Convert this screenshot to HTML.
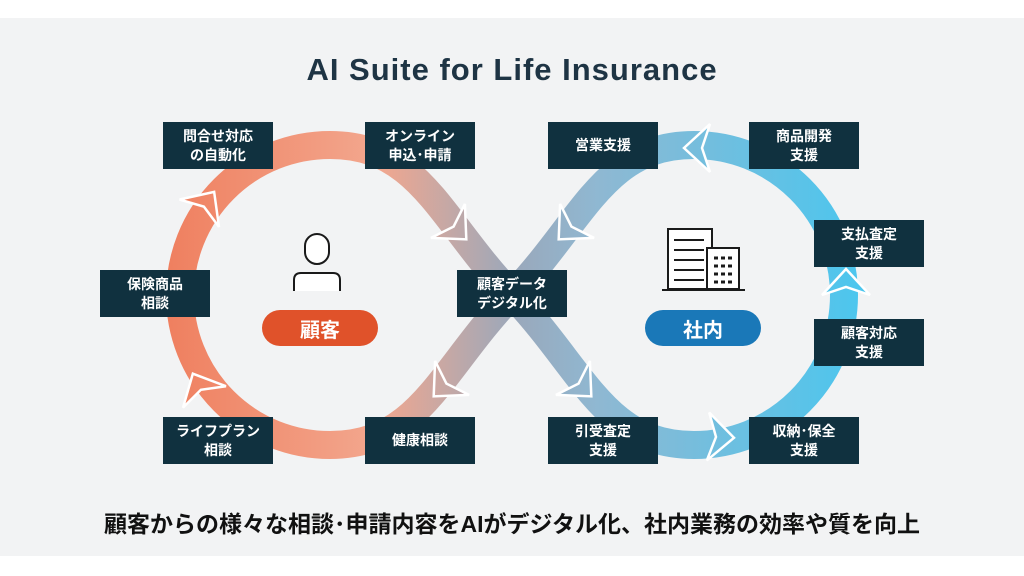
<!DOCTYPE html>
<html><head><meta charset="utf-8"><style>
html,body{margin:0;padding:0;}
body{width:1024px;height:576px;background:#fff;position:relative;overflow:hidden;font-family:"Liberation Sans","Noto Sans CJK JP",sans-serif;}
.panel{position:absolute;left:0;top:18px;width:1024px;height:538px;background:#f2f3f4;}
.box{position:absolute;width:110px;height:47px;background:#10313f;color:#fff;font-size:14px;font-weight:bold;line-height:19px;display:flex;align-items:center;justify-content:center;text-align:center;}
.title{position:absolute;top:52px;left:0;width:1024px;text-align:center;font-size:31px;color:#1e3444;letter-spacing:1px;font-weight:bold;}
.bottom{position:absolute;top:505px;left:0;width:1024px;text-align:center;font-size:23px;color:#111;font-weight:bold;}
.pill{position:absolute;width:116px;height:36px;border-radius:18px;color:#fff;font-size:20px;font-weight:bold;display:flex;align-items:center;justify-content:center;}
</style></head><body>
<div class="panel"></div>
<svg width="1024" height="576" style="position:absolute;left:0;top:0">
<defs>
<linearGradient id="g" gradientUnits="userSpaceOnUse" x1="170" y1="0" x2="860" y2="0">
<stop offset="0" stop-color="#ef8060"/>
<stop offset="0.3" stop-color="#f3a78e"/>
<stop offset="0.5" stop-color="#9aa8bb"/>
<stop offset="0.62" stop-color="#8fb8d2"/>
<stop offset="1" stop-color="#4cc6ee"/>
</linearGradient>
</defs>
<path d="M512 295 C440 220,420 145,330 145 A150 150 0 0 0 330 445 C420 445,440 370,512 295 C584 220,604 145,694 145 A150 150 0 0 1 694 445 C604 445,584 370,512 295Z" fill="none" stroke="url(#g)" stroke-width="28"/>
<g id="arrows" fill="url(#g)" stroke="#fff" stroke-width="2.5" stroke-linejoin="miter"></g>
<!-- person -->
<g fill="#fff" stroke="#1a1a1a" stroke-width="2">
<rect x="305" y="234" width="24" height="30" rx="12"/>
<path d="M294 291 V280 Q294 273 301 273 H333 Q340 273 340 280 V291"/>
</g>
<!-- building -->
<g fill="#fff" stroke="#1a1a1a" stroke-width="2">
<rect x="668" y="229" width="44" height="60"/>
<rect x="707" y="248" width="32" height="41"/>
<line x1="662" y1="290" x2="745" y2="290"/>
<g stroke-width="2"><line x1="674" y1="240" x2="704" y2="240"/><line x1="674" y1="250" x2="704" y2="250"/><line x1="674" y1="260" x2="704" y2="260"/><line x1="674" y1="270" x2="704" y2="270"/><line x1="674" y1="280" x2="704" y2="280"/></g>
<g stroke-width="3"><line x1="714" y1="258" x2="732" y2="258" stroke-dasharray="4 3"/><line x1="714" y1="266" x2="732" y2="266" stroke-dasharray="4 3"/><line x1="714" y1="274" x2="732" y2="274" stroke-dasharray="4 3"/><line x1="714" y1="282" x2="732" y2="282" stroke-dasharray="4 3"/></g>
</g>
</svg>
<script>
(function(){
var A=[[205,205,0.57,-0.82],[200,388,-0.45,-0.9],[455,228,0.7,0.7],[445,385,-0.7,0.7],[570,228,-0.7,0.7],[580,385,0.7,0.7],[718,437,1,0.05],[846,285,0,-1],[700,148,-1,0]];
var g=document.getElementById('arrows'),s='';
A.forEach(function(a){var x=a[0],y=a[1],l=Math.hypot(a[2],a[3]),dx=a[2]/l,dy=a[3]/l,nx=-dy,ny=dx;
var tip=[x+dx*16,y+dy*16],b=[x-dx*10,y-dy*10];
var p1=[b[0]+nx*24,b[1]+ny*24],p2=[b[0]-nx*24,b[1]-ny*24],c=[x-dx*2,y-dy*2];
s+='<polygon points="'+p1.join(',')+' '+tip.join(',')+' '+p2.join(',')+' '+c.join(',')+'"/>';});
g.innerHTML=s;})();
</script>
<div class="pill" style="left:262px;top:310px;background:#e0522a;">顧客</div>
<div class="pill" style="left:645px;top:310px;background:#1a78b8;">社内</div>
<div class="title">AI Suite for Life Insurance</div>
<div class="box" style="left:163px;top:122px">問合せ対応<br>の自動化</div>
<div class="box" style="left:365px;top:122px">オンライン<br>申込･申請</div>
<div class="box" style="left:100px;top:270px">保険商品<br>相談</div>
<div class="box" style="left:457px;top:270px">顧客データ<br>デジタル化</div>
<div class="box" style="left:163px;top:417px">ライフプラン<br>相談</div>
<div class="box" style="left:365px;top:417px">健康相談</div>
<div class="box" style="left:548px;top:122px">営業支援</div>
<div class="box" style="left:749px;top:122px">商品開発<br>支援</div>
<div class="box" style="left:814px;top:220px">支払査定<br>支援</div>
<div class="box" style="left:814px;top:319px">顧客対応<br>支援</div>
<div class="box" style="left:548px;top:417px">引受査定<br>支援</div>
<div class="box" style="left:749px;top:417px">収納･保全<br>支援</div>
<div class="bottom">顧客からの様々な相談･申請内容をAIがデジタル化、社内業務の効率や質を向上</div>
</body></html>
